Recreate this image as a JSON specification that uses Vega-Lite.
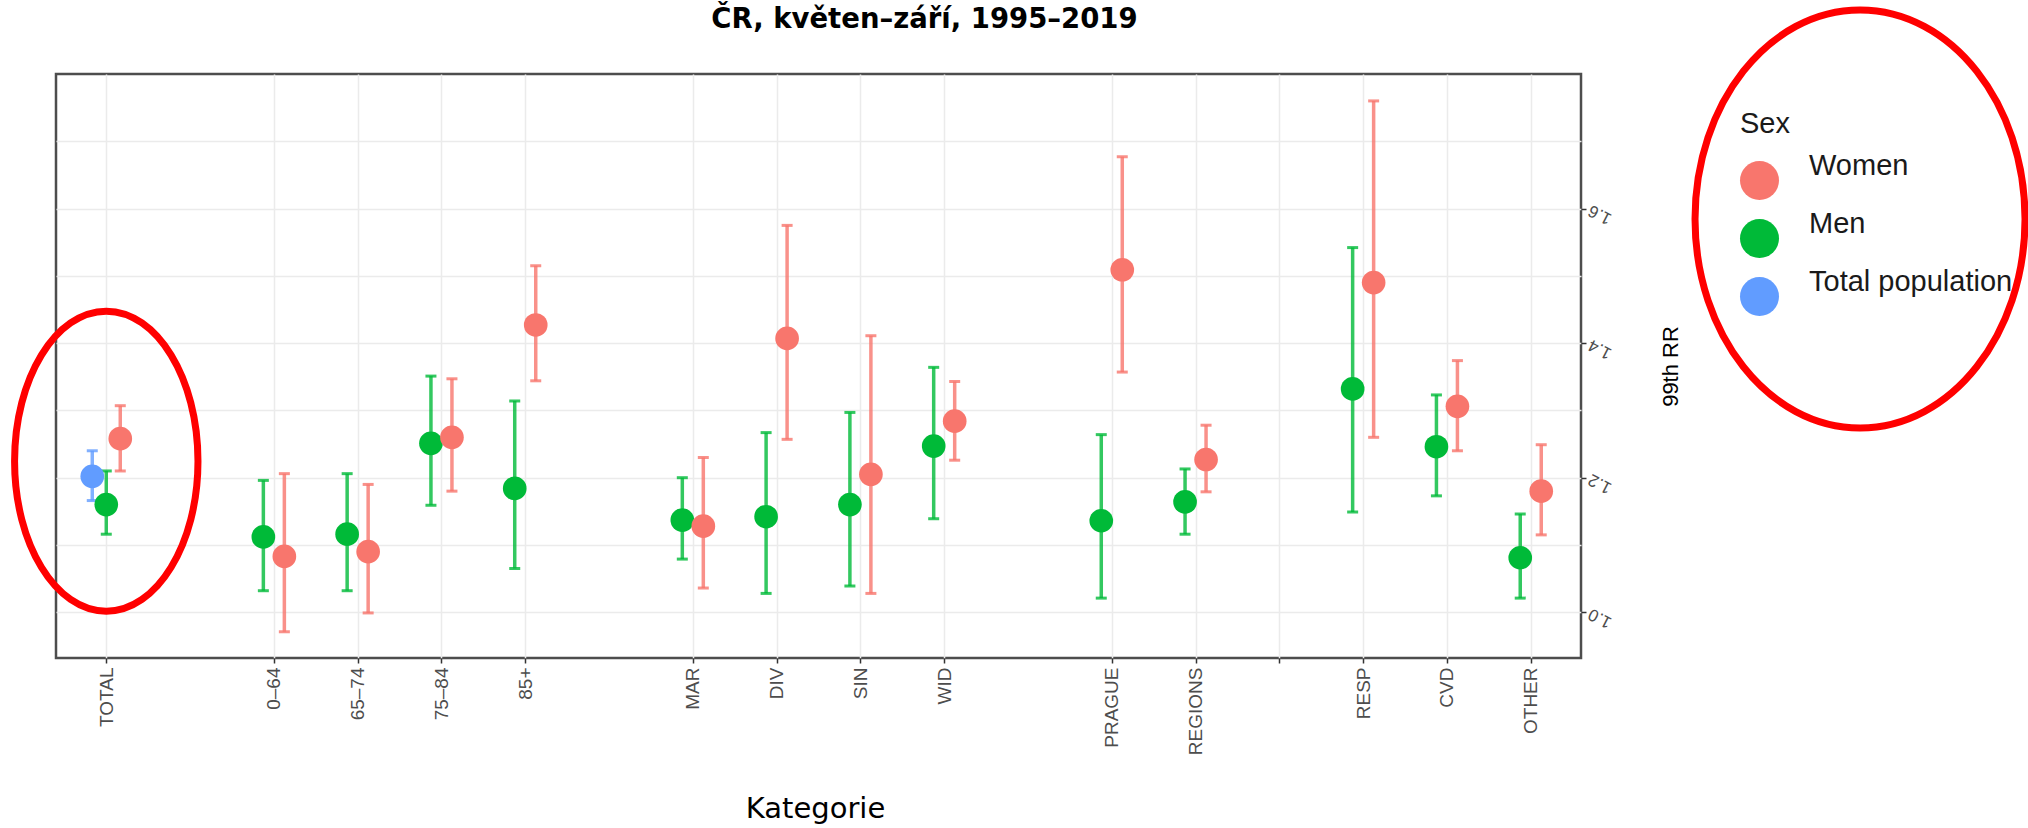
{
  "$schema": "https://vega.github.io/schema/vega-lite/v6.json",
  "width": 1525,
  "height": 584,
  "autosize": {"type": "none"},
  "padding": {"left": 56, "top": 74, "right": 447, "bottom": 170},
  "background": "white",
  "title": {
    "text": "ČR, květen–září, 1995–2019",
    "font": "DejaVu Sans",
    "fontWeight": "bold",
    "fontSize": 27.5,
    "color": "black",
    "anchor": "middle",
    "frame": "group",
    "baseline": "alphabetic",
    "offset": 0,
    "dy": 60,
    "dx": 106
  },
  "config": {
    "view": {"stroke": "#4d4d4d", "strokeWidth": 2.5},
    "axis": {"labelOverlap": false}
  },
  "data": {
    "values": [
      {"cat": "TOTAL", "sex": "Total population", "est": 1.202, "lo": 1.166, "hi": 1.240},
      {"cat": "TOTAL", "sex": "Men", "est": 1.160, "lo": 1.116, "hi": 1.210},
      {"cat": "TOTAL", "sex": "Women", "est": 1.258, "lo": 1.210, "hi": 1.307},
      {"cat": "0–64", "sex": "Men", "est": 1.112, "lo": 1.032, "hi": 1.196},
      {"cat": "0–64", "sex": "Women", "est": 1.083, "lo": 0.971, "hi": 1.206},
      {"cat": "65–74", "sex": "Men", "est": 1.116, "lo": 1.032, "hi": 1.206},
      {"cat": "65–74", "sex": "Women", "est": 1.090, "lo": 0.999, "hi": 1.190},
      {"cat": "75–84", "sex": "Men", "est": 1.251, "lo": 1.159, "hi": 1.351},
      {"cat": "75–84", "sex": "Women", "est": 1.260, "lo": 1.180, "hi": 1.347},
      {"cat": "85+", "sex": "Men", "est": 1.184, "lo": 1.065, "hi": 1.314},
      {"cat": "85+", "sex": "Women", "est": 1.427, "lo": 1.344, "hi": 1.515},
      {"cat": "MAR", "sex": "Men", "est": 1.137, "lo": 1.079, "hi": 1.200},
      {"cat": "MAR", "sex": "Women", "est": 1.128, "lo": 1.036, "hi": 1.230},
      {"cat": "DIV", "sex": "Men", "est": 1.142, "lo": 1.028, "hi": 1.267},
      {"cat": "DIV", "sex": "Women", "est": 1.407, "lo": 1.257, "hi": 1.575},
      {"cat": "SIN", "sex": "Men", "est": 1.160, "lo": 1.039, "hi": 1.297},
      {"cat": "SIN", "sex": "Women", "est": 1.205, "lo": 1.028, "hi": 1.411},
      {"cat": "WID", "sex": "Men", "est": 1.247, "lo": 1.139, "hi": 1.364},
      {"cat": "WID", "sex": "Women", "est": 1.284, "lo": 1.226, "hi": 1.343},
      {"cat": "PRAGUE", "sex": "Men", "est": 1.136, "lo": 1.021, "hi": 1.264},
      {"cat": "PRAGUE", "sex": "Women", "est": 1.509, "lo": 1.357, "hi": 1.677},
      {"cat": "REGIONS", "sex": "Men", "est": 1.164, "lo": 1.116, "hi": 1.213},
      {"cat": "REGIONS", "sex": "Women", "est": 1.227, "lo": 1.179, "hi": 1.278},
      {"cat": "RESP", "sex": "Men", "est": 1.332, "lo": 1.149, "hi": 1.542},
      {"cat": "RESP", "sex": "Women", "est": 1.490, "lo": 1.260, "hi": 1.760},
      {"cat": "CVD", "sex": "Men", "est": 1.246, "lo": 1.173, "hi": 1.323},
      {"cat": "CVD", "sex": "Women", "est": 1.306, "lo": 1.240, "hi": 1.374},
      {"cat": "OTHER", "sex": "Men", "est": 1.081, "lo": 1.021, "hi": 1.146},
      {"cat": "OTHER", "sex": "Women", "est": 1.180, "lo": 1.115, "hi": 1.249}
    ]
  },
  "layer": [
    {
      "encoding": {
        "x": {
          "field": "cat",
          "type": "nominal",
          "scale": {
            "type": "point",
            "padding": 0.6,
            "domain": ["TOTAL", "_g1", "0–64", "65–74", "75–84", "85+", "_g2", "MAR", "DIV", "SIN", "WID", "_g3", "PRAGUE", "REGIONS", "_g4", "RESP", "CVD", "OTHER"]
          },
          "axis": {
            "title": "Kategorie",
            "titleFont": "DejaVu Sans",
            "titleFontSize": 29,
            "titleFontWeight": "normal",
            "titleColor": "black",
            "titleX": 759,
            "titleY": 159,
            "titleAlign": "center",
            "titleBaseline": "alphabetic",
            "labelAngle": 270,
            "labelFont": "Liberation Sans",
            "labelFontSize": 19,
            "labelColor": "#4d4d4d",
            "labelPadding": 4,
            "labelExpr": "indexof(datum.value, '_') == 0 ? '' : datum.value",
            "tickSize": 5,
            "tickWidth": 1.5,
            "tickColor": {"condition": {"test": "indexof(['_g1','_g2','_g3'], datum.value) >= 0", "value": "transparent"}, "value": "#333333"},
            "grid": true,
            "gridWidth": 1.5,
            "gridColor": {"condition": {"test": "indexof(['_g1','_g2','_g3'], datum.value) >= 0", "value": "transparent"}, "value": "#ebebeb"},
            "domain": false
          }
        },
        "y": {
          "field": "est",
          "type": "quantitative",
          "scale": {"domain": [0.932, 1.8], "nice": false, "zero": false},
          "axis": {
            "orient": "right",
            "values": [1.0, 1.1, 1.2, 1.3, 1.4, 1.5, 1.6, 1.7],
            "labelExpr": "round(datum.value*10) % 2 == 0 ? format(datum.value, '.1f') : ''",
            "tickColor": {"condition": {"test": "round(datum.value*10) % 2 == 1", "value": "transparent"}, "value": "#333333"},
            "tickSize": 5,
            "tickWidth": 1.5,
            "grid": true,
            "gridColor": "#ebebeb",
            "gridWidth": 1.5,
            "domain": false,
            "labelAngle": 207,
            "labelAlign": "right",
            "labelBaseline": "middle",
            "labelFont": "Liberation Sans",
            "labelFontSize": 17,
            "labelColor": "#4d4d4d",
            "labelPadding": 3,
            "title": "99th RR",
            "titleAngle": 270,
            "titleFont": "Liberation Sans",
            "titleFontSize": 22,
            "titleFontWeight": "normal",
            "titleColor": "black",
            "titleX": 89,
            "titleY": 292,
            "titleAlign": "center",
            "titleBaseline": "middle"
          }
        },
        "color": {
          "field": "sex",
          "type": "nominal",
          "scale": {"domain": ["Women", "Men", "Total population"], "range": ["#F8766D", "#00BA38", "#619CFF"]},
          "legend": {
            "title": "Sex",
            "orient": "none",
            "legendX": 1684,
            "legendY": 36,
            "padding": 0,
            "titleFont": "Liberation Sans",
            "titleFontSize": 29,
            "titleFontWeight": "normal",
            "titleColor": "#1a1a1a",
            "titlePadding": 22,
            "labelFont": "Liberation Sans",
            "labelFontSize": 29,
            "labelColor": "#1a1a1a",
            "labelBaseline": "bottom",
            "labelOffset": 30,
            "labelLimit": 0,
            "symbolType": "circle",
            "symbolSize": 1520,
            "symbolStrokeWidth": 0,
            "symbolOpacity": 1,
            "rowPadding": 9
          }
        }
      },
      "layer": [
        {
          "transform": [{"filter": "datum.cat === 'TOTAL'"}],
          "encoding": {
            "xOffset": {"field": "sex", "type": "nominal", "scale": {"type": "point", "domain": ["Total population", "Men", "Women"], "range": [-14, 14], "padding": 0}}
          },
          "layer": [
            {
              "mark": {"type": "rule", "strokeWidth": 3.5, "opacity": 0.8},
              "encoding": {"y": {"field": "lo", "type": "quantitative"}, "y2": {"field": "hi"}}
            },
            {
              "mark": {"type": "tick", "orient": "horizontal", "size": 11, "thickness": 3, "opacity": 0.8},
              "encoding": {"y": {"field": "hi", "type": "quantitative"}}
            },
            {
              "mark": {"type": "tick", "orient": "horizontal", "size": 11, "thickness": 3, "opacity": 0.8},
              "encoding": {"y": {"field": "lo", "type": "quantitative"}}
            },
            {
              "mark": {"type": "point", "filled": true, "size": 560, "opacity": 1}
            }
          ]
        },
        {
          "transform": [{"filter": "datum.cat !== 'TOTAL'"}],
          "encoding": {
            "xOffset": {"field": "sex", "type": "nominal", "scale": {"type": "point", "domain": ["Men", "Women"], "range": [-10.5, 10.5], "padding": 0}}
          },
          "layer": [
            {
              "mark": {"type": "rule", "strokeWidth": 3.5, "opacity": 0.8},
              "encoding": {"y": {"field": "lo", "type": "quantitative"}, "y2": {"field": "hi"}}
            },
            {
              "mark": {"type": "tick", "orient": "horizontal", "size": 11, "thickness": 3, "opacity": 0.8},
              "encoding": {"y": {"field": "hi", "type": "quantitative"}}
            },
            {
              "mark": {"type": "tick", "orient": "horizontal", "size": 11, "thickness": 3, "opacity": 0.8},
              "encoding": {"y": {"field": "lo", "type": "quantitative"}}
            },
            {
              "mark": {"type": "point", "filled": true, "size": 560, "opacity": 1}
            }
          ]
        }
      ],
      "resolve": {"scale": {"xOffset": "independent"}}
    },
    {
      "data": {"values": [{"note": "TOTAL highlight"}]},
      "mark": {
        "type": "point",
        "shape": "M 0.917 0 C 0.917 0.8284 0.5065 1.5 0 1.5 C -0.5065 1.5 -0.917 0.8284 -0.917 0 C -0.917 -0.8284 -0.5065 -1.5 0 -1.5 C 0.5065 -1.5 0.917 -0.8284 0.917 0 Z",
        "size": 40000,
        "filled": false,
        "stroke": "#ff0000",
        "strokeWidth": 7,
        "opacity": 1
      },
      "encoding": {
        "x": {"datum": "TOTAL", "type": "nominal"},
        "y": {"datum": 1.2246, "type": "quantitative"}
      }
    },
    {
      "data": {"values": [{"note": "legend highlight"}]},
      "mark": {
        "type": "point",
        "shape": "M 4.943 0 C 4.943 1.1543 4.2043 2.09 3.293 2.09 C 2.3817 2.09 1.643 1.1543 1.643 0 C 1.643 -1.1543 2.3817 -2.09 3.293 -2.09 C 4.2043 -2.09 4.943 -1.1543 4.943 0 Z",
        "size": 40000,
        "filled": false,
        "stroke": "#ff0000",
        "strokeWidth": 7,
        "opacity": 1
      },
      "encoding": {
        "x": {"datum": "OTHER", "type": "nominal"},
        "y": {"datum": 1.5845, "type": "quantitative"}
      }
    }
  ]
}
